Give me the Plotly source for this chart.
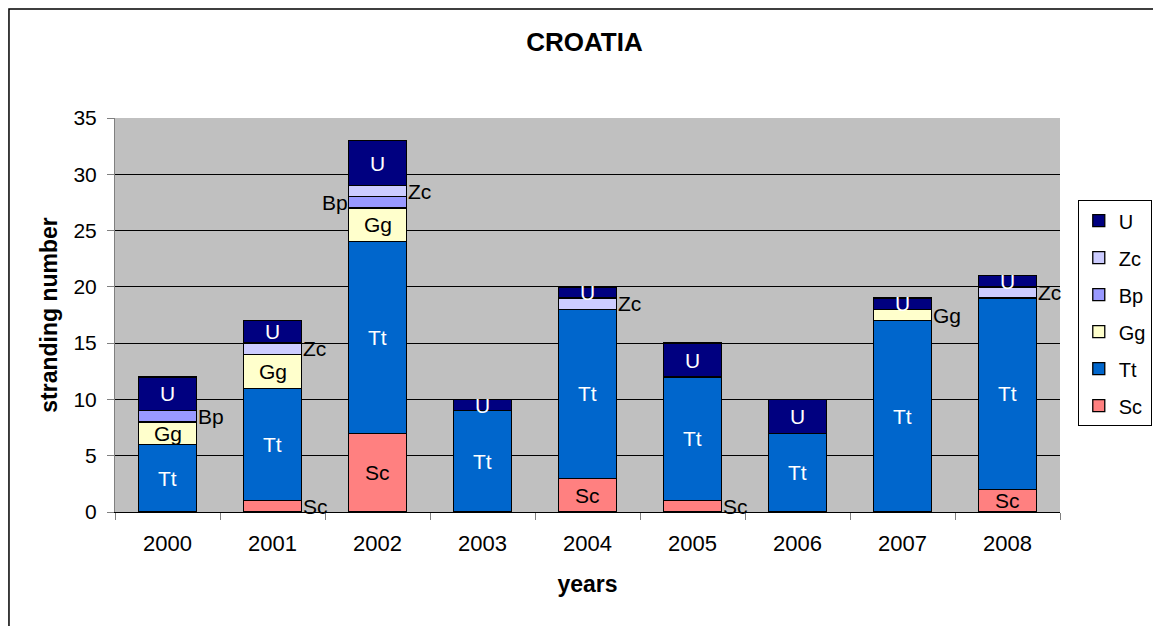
import plotly.graph_objects as go

years = ["2000", "2001", "2002", "2003", "2004", "2005", "2006", "2007", "2008"]

sc = [0, 1, 7, 0, 3, 1, 0, 0, 2]
tt = [6, 10, 17, 9, 15, 11, 7, 17, 17]
gg = [2, 3, 3, 0, 0, 0, 0, 1, 0]
bp = [1, 0, 1, 0, 0, 0, 0, 0, 0]
zc = [0, 1, 1, 0, 1, 0, 0, 0, 1]
u = [3, 2, 4, 1, 1, 3, 3, 1, 1]

# label placement per segment: "in" inside, "r" right of bar, "l" left of bar, "" none
sc_lab = ["", "r", "in", "", "in", "r", "", "", "in"]
tt_lab = ["in"] * 9
gg_lab = ["in", "in", "in", "", "", "", "", "r", ""]
bp_lab = ["r", "", "l", "", "", "", "", "", ""]
zc_lab = ["", "r", "r", "", "r", "", "", "", "r"]
u_lab = ["in"] * 9

series = [
    ("Sc", sc, sc_lab, "#FF8080", "black"),
    ("Tt", tt, tt_lab, "#0066CC", "white"),
    ("Gg", gg, gg_lab, "#FFFFCC", "black"),
    ("Bp", bp, bp_lab, "#9999FF", "black"),
    ("Zc", zc, zc_lab, "#CCCCFF", "black"),
    ("U", u, u_lab, "#000080", "white"),
]

FONT = "Liberation Sans, Arial, sans-serif"
LABEL_SIZE = 21

fig = go.Figure()
annotations = []
base = [0] * len(years)
for k, (name, vals, labs, color, tcol) in enumerate(series):
    fig.add_trace(go.Bar(
        x=years, y=vals, name=name, legendgroup=name, legendrank=len(series) - k,
        marker=dict(color=color, line=dict(color="black", width=1.3)),
    ))
    for i, (v, lab) in enumerate(zip(vals, labs)):
        if v > 0 and lab:
            mid = base[i] + v / 2
            # category index i locates the year on the category axis
            ann = dict(x=i, y=mid, text=name, showarrow=False,
                       font=dict(color=tcol if lab == "in" else "black",
                                 size=LABEL_SIZE, family=FONT))
            if lab == "r":
                ann.update(xanchor="left", xshift=28)
            elif lab == "l":
                ann.update(xanchor="right", xshift=-28)
            annotations.append(ann)
        base[i] += v

fig.update_layout(
    width=1153, height=618,
    barmode="stack", bargap=0.45,
    paper_bgcolor="white", plot_bgcolor="#C0C0C0",
    font=dict(family=FONT, size=21, color="black"),
    margin=dict(l=107, r=101, t=110, b=114),
    title=dict(text="<b>CROATIA</b>", x=0.5, xanchor="center", y=0.945, yanchor="middle",
               font=dict(size=26, family=FONT)),
    xaxis=dict(type="category", range=[-0.5, len(years) - 0.5],
               title=dict(text="<b>years</b>", font=dict(size=23), standoff=20),
               showgrid=False, tickson="boundaries", ticks="outside", ticklen=7,
               tickcolor="#808080", showline=True, linecolor="black", linewidth=1,
               tickfont=dict(size=22), ticklabelstandoff=12),
    yaxis=dict(title=dict(text="<b>stranding number</b>", font=dict(size=23), standoff=9),
               range=[0, 35], dtick=5, showgrid=True, gridcolor="black", gridwidth=1,
               ticks="outside", ticklen=7, tickcolor="#808080", showline=True,
               linecolor="#808080", linewidth=1, tickfont=dict(size=21),
               ticklabelstandoff=6, zeroline=False),
    legend=dict(xref="container", yref="container", x=0.992, y=0.689,
                xanchor="right", yanchor="top", traceorder="grouped",
                bgcolor="white", bordercolor="black", borderwidth=1,
                font=dict(size=20), tracegroupgap=8, itemwidth=30),
    annotations=annotations,
    shapes=[dict(type="rect", xref="paper", yref="paper", x0=-0.1122, x1=1.1037,
                 y0=-0.35, y1=1.2766, line=dict(color="black", width=1.5),
                 fillcolor="rgba(0,0,0,0)", layer="below")],
)

fig.write_html("out.html")
